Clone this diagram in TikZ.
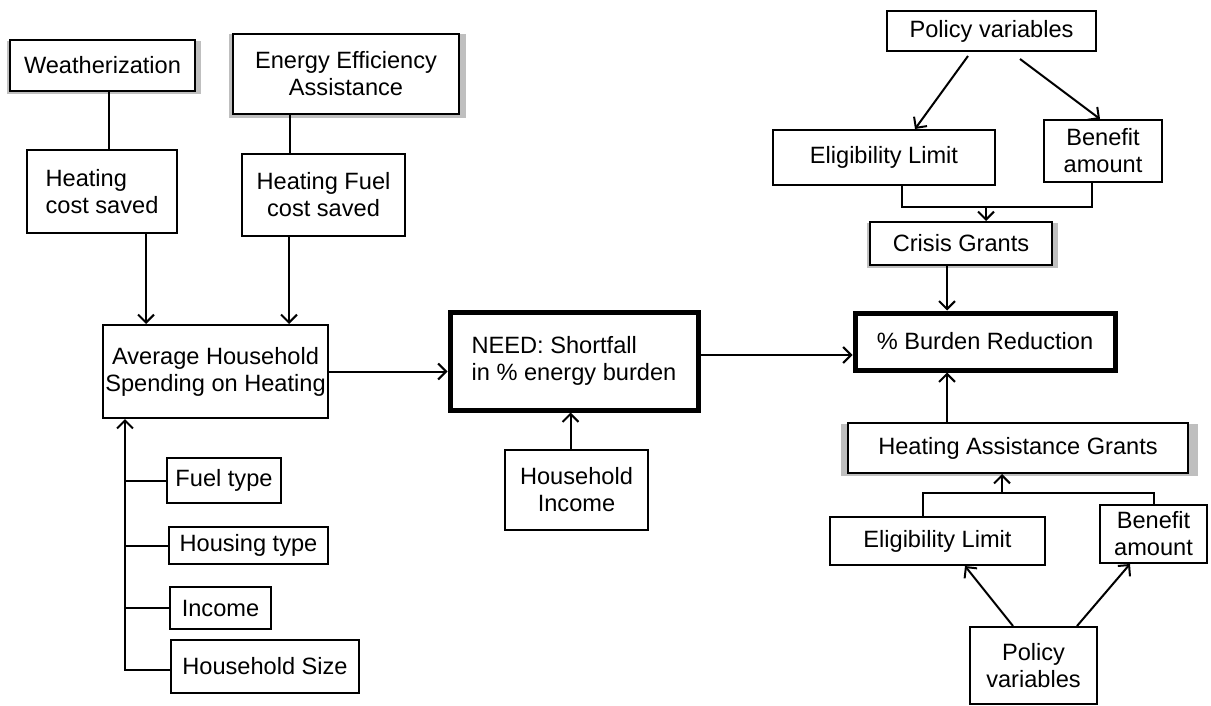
\documentclass[tikz,border=0pt]{standalone}
\usepackage{fontspec}
\setmainfont{Liberation Sans}
\usetikzlibrary{arrows.meta,shadows}
\begin{document}
\begin{tikzpicture}[x=0.5pt,y=-0.5pt,
  box/.style={draw=black, line width=1pt, fill=white, inner sep=1pt, font=\fontsize{11.8}{13.5}\selectfont, align=center},
  thickbox/.style={box, line width=2.5pt},
  shade/.style={general shadow={fill=gray!50, shadow scale=1.05, shadow xshift=0.6pt, shadow yshift=-1pt}},
  conn/.style={line width=1pt},
  arr/.style={conn, -{Straight Barb[length=4pt,width=8pt,line width=1pt]}}
]
\useasboundingbox[fill=white] (0,0) rectangle (1211,706);

% left column
\node[box, shade, minimum width=92.5pt, minimum height=25.5pt] (weath) at (102.5,65.5) {Weatherization};
\node[box, shade, minimum width=113pt, minimum height=40pt] (eea) at (346,74) {Energy Efficiency\\Assistance};
\node[box, align=left, minimum width=75pt, minimum height=41.5pt] (hcs) at (102,191.5) {Heating\\cost saved};
\node[box, minimum width=81.5pt, minimum height=41pt] (hfcs) at (323.5,195) {Heating Fuel\\cost saved};
\node[box, minimum width=110.5pt, minimum height=46.5pt] (avg) at (215.5,371.5) {Average Household\\Spending on Heating};
\node[box, minimum width=57pt, minimum height=22.5pt] (fuel) at (224,480.5) {Fuel type};
\node[box, minimum width=79.5pt, minimum height=18.5pt] (housing) at (248.5,545.5) {Housing type};
\node[box, minimum width=50.5pt, minimum height=21pt] (income) at (220.5,608) {Income};
\node[box, minimum width=94pt, minimum height=26.5pt] (hsize) at (265,666.5) {Household Size};

% middle
\node[thickbox, align=left, minimum width=124pt, minimum height=49pt] (need) at (574,361) {NEED: Shortfall\\in \% energy burden};
\node[box, minimum width=71.5pt, minimum height=40pt] (hinc) at (576.5,490) {Household\\Income};

% right
\node[box, minimum width=104.5pt, minimum height=20pt] (pv1) at (991.5,31) {Policy variables};
\node[box, minimum width=111pt, minimum height=27.5pt] (el1) at (884,157.5) {Eligibility Limit};
\node[box, minimum width=59pt, minimum height=31pt] (ba1) at (1103,151) {Benefit\\amount};
\node[box, shade, minimum width=91pt, minimum height=21.5pt] (crisis) at (961,243.5) {Crisis Grants};
\node[thickbox, minimum width=130pt, minimum height=28.5pt] (burden) at (985,341.5) {\% Burden Reduction};
\node[box, shade, minimum width=170pt, minimum height=25pt] (hag) at (1018,448) {Heating Assistance Grants};
\node[box, minimum width=107.5pt, minimum height=24pt] (el2) at (937.5,541) {Eligibility Limit};
\node[box, minimum width=53.5pt, minimum height=29pt] (ba2) at (1153.5,534) {Benefit\\amount};
\node[box, minimum width=63.5pt, minimum height=38.5pt] (pv2) at (1033.5,665.5) {Policy\\variables};

% connectors left
\draw[conn] ([xshift=3.25pt]weath.south) -- ([xshift=3.25pt]weath.south |- hcs.north);
\draw[conn] ([xshift=-28pt]eea.south) -- ([xshift=-28pt]eea.south |- hfcs.north);
\draw[arr] ([xshift=22pt]hcs.south) -- ([xshift=22pt]hcs.south |- avg.north);
\draw[arr] ([xshift=-17.25pt]hfcs.south) -- ([xshift=-17.25pt]hfcs.south |- avg.north);
\draw[arr] (avg.east) -- (avg.east -| need.west);

\coordinate (sp) at (125,670);
\draw[arr] (hsize.west |- sp) -- (sp) -- (sp |- avg.south);
\draw[conn] (fuel.west) -- (fuel.west -| sp);
\draw[conn] (housing.west) -- (housing.west -| sp);
\draw[conn] (income.west) -- (income.west -| sp);

% middle
\draw[arr] ([xshift=-3pt]hinc.north) -- ([xshift=-3pt]hinc.north |- need.south);
\draw[arr] ([yshift=3pt]need.east) -- ([yshift=3pt]need.east -| burden.west);

% right top
\draw[arr] ([xshift=-11.75pt,yshift=-2pt]pv1.south) -- ([xshift=15.5pt]el1.north);
\draw[arr] ([xshift=14.25pt,yshift=-3.5pt]pv1.south) -- ([xshift=-1.5pt]ba1.north);
\coordinate (j1) at (986,207);
\draw[conn] ([xshift=9pt]el1.south) |- ([xshift=-5.5pt]ba1.south |- j1) -- ([xshift=-5.5pt]ba1.south);
\draw[arr] (j1) -- (j1 |- crisis.north);
\draw[arr] ([xshift=-7pt]crisis.south) -- ([xshift=-7pt]crisis.south |- burden.north);

% right bottom
\draw[arr] ([xshift=-35.5pt]hag.north) -- ([xshift=-35.5pt]hag.north |- burden.south);
\coordinate (j2) at (1002,493);
\draw[conn] ([xshift=-7.25pt]el2.north) |- (ba2.north |- j2) -- (ba2.north);
\draw[arr] (j2) -- (j2 |- hag.south);
\draw[arr] ([xshift=-10.25pt]pv2.north) -- ([xshift=13.75pt]el2.south);
\draw[arr] ([xshift=21.75pt]pv2.north) -- ([xshift=-11.75pt]ba2.south);
\end{tikzpicture}
\end{document}
